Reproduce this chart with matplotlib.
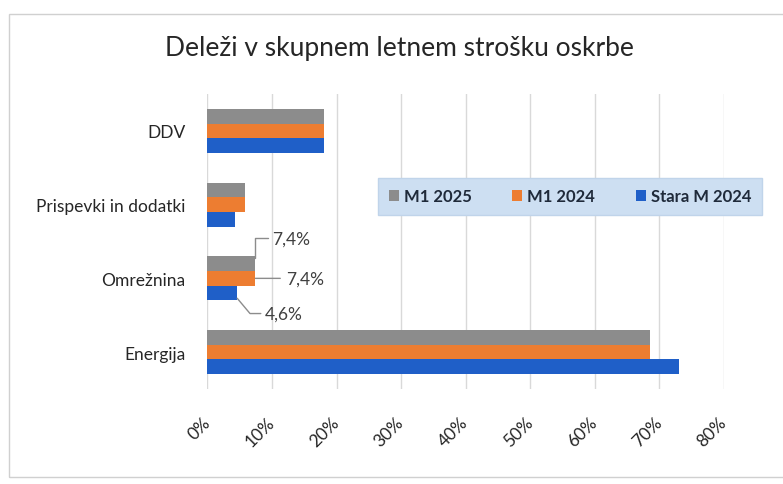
import numpy as np
import matplotlib
matplotlib.use("Agg")
import matplotlib.pyplot as plt
from matplotlib.patches import Rectangle
from matplotlib.transforms import ScaledTranslation

plt.rcParams['font.family'] = ['Lato', 'DejaVu Sans']

categories = ["Energija", "Omrežnina", "Prispevki in dodatki", "DDV"]
series_names = ["M1 2025", "M1 2024", "Stara M 2024"]
m1_2025 = [68.6, 7.4, 5.8, 18.0]
m1_2024 = [68.6, 7.4, 5.8, 18.0]
stara_2024 = [73.0, 4.6, 4.2, 18.0]
colors = ["#8c8c8c", "#ed7d31", "#1f5fc8"]
x_ticks = [0, 10, 20, 30, 40, 50, 60, 70, 80]

fig = plt.figure(figsize=(7.83, 4.85), dpi=100)
fig.patches.append(Rectangle((0.011, 0.015), 1.2, 0.955, transform=fig.transFigure,
                             fill=False, edgecolor="#d0d0d0", linewidth=1.0))

ax = fig.add_axes([0.265, 0.196, 0.6597, 0.608])
y = np.arange(len(categories))
h = 0.2
bars_grey = ax.barh(y + h, m1_2025, height=h, color=colors[0], label=series_names[0], zorder=3)
bars_orange = ax.barh(y, m1_2024, height=h, color=colors[1], label=series_names[1], zorder=3)
bars_blue = ax.barh(y - h, stara_2024, height=h, color=colors[2], label=series_names[2], zorder=3)

ax.set_xlim(0, 80)
ax.set_ylim(-0.5, 3.5)
ax.set_xticks(x_ticks)
ax.set_xticklabels([f"{t}%" for t in x_ticks], rotation=45, ha="right",
                   rotation_mode="anchor", va="center", fontsize=12.5, color="#262626")
for lbl in ax.get_xticklabels():
    lbl.set_transform(lbl.get_transform() + ScaledTranslation(7 / 72, -2 / 72, fig.dpi_scale_trans))
ax.set_yticks(y)
ax.set_yticklabels(categories, fontsize=12.5, color="#262626")
ax.tick_params(axis="x", length=0, pad=22)
ax.tick_params(axis="y", length=0, pad=16)
ax.grid(axis="x", color="#d9d9d9", linewidth=1.0, zorder=0)
for s in ax.spines.values():
    s.set_visible(False)

fig.text(0.51, 0.9, "Deleži v skupnem letnem strošku oskrbe", ha="center", va="center",
         fontsize=19, color="#262626")

# data labels for Omrežnina
def fmt(v):
    return f"{v:.1f}".replace(".", ",") + "%"

i = 1
ax.annotate(fmt(m1_2025[i]), xy=(m1_2025[i], i + h + 0.08), xytext=(12, 14), textcoords="offset points",
            ha="left", va="center", fontsize=12.5, color="#404040",
            arrowprops=dict(arrowstyle="-", color="#8c8c8c", lw=1,
                            connectionstyle="angle,angleA=0,angleB=90,rad=0", shrinkA=1, shrinkB=0))
ax.annotate(fmt(m1_2024[i]), xy=(m1_2024[i], i), xytext=(22, 0), textcoords="offset points",
            ha="left", va="center", fontsize=12.5, color="#404040",
            arrowprops=dict(arrowstyle="-", color="#8c8c8c", lw=1, shrinkA=2, shrinkB=0))
ax.annotate(fmt(stara_2024[i]), xy=(stara_2024[i], i - h - 0.07), xytext=(20, -11), textcoords="offset points",
            ha="left", va="center", fontsize=12.5, color="#404040",
            arrowprops=dict(arrowstyle="-", color="#8c8c8c", lw=1,
                            connectionstyle="angle,angleA=0,angleB=-50,rad=0", shrinkA=1, shrinkB=0))

leg = fig.legend(handles=[bars_grey, bars_orange, bars_blue], labels=series_names,
                 loc="center", bbox_to_anchor=(378 / 783, 1 - 216 / 485, 384 / 783, 37 / 485),
                 mode="expand", ncol=3, frameon=True, fancybox=False, borderaxespad=0,
                 handlelength=0.6, handleheight=0.6, handletextpad=0.3, columnspacing=1.2,
                 borderpad=0.65, prop=dict(size=12, weight="bold"))
leg.get_frame().set_facecolor("#cddff2")
leg.get_frame().set_edgecolor("#c0d4ea")
leg.get_frame().set_alpha(1)
for t in leg.get_texts():
    t.set_color("#1f2a3a")

fig.savefig("out.png", dpi=100)
